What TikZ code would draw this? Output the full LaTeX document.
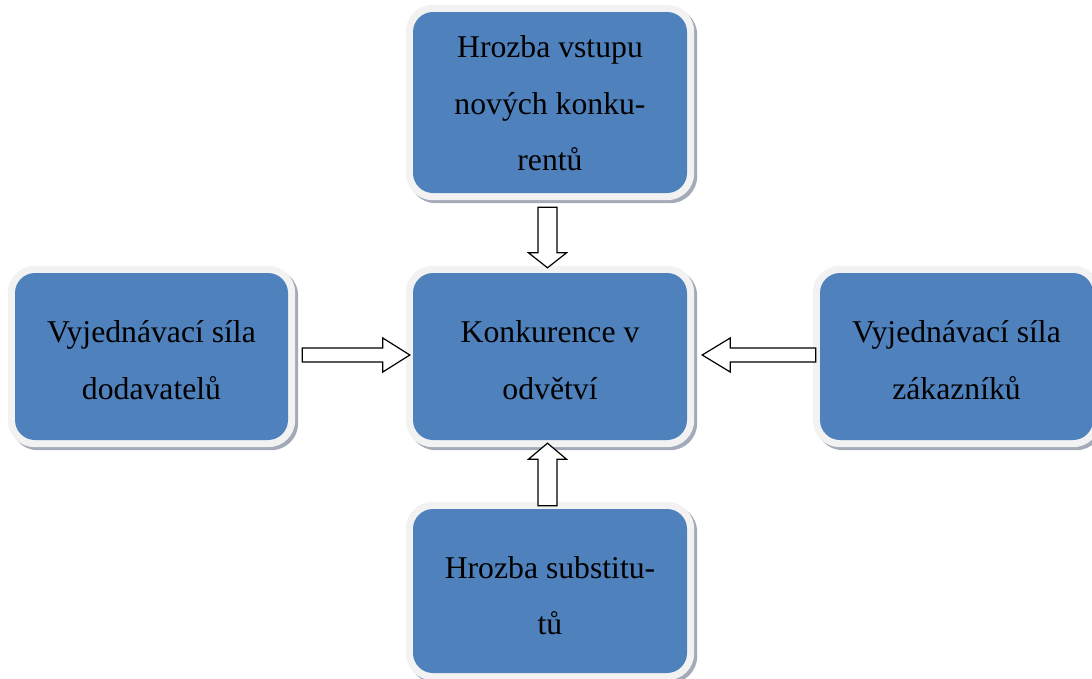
\documentclass[tikz,border=0pt]{standalone}
\usepackage{fontspec}
\setmainfont{Liberation Serif}
\usetikzlibrary{calc}
\pgfdeclarelayer{bg}
\pgfsetlayers{bg,main}
\definecolor{boxblue}{HTML}{4F81BD}
\definecolor{framegray}{HTML}{F2F2F2}
\definecolor{shadowgray}{HTML}{A3ABB8}
\newcommand{\myboxframe}[1]{%
  \fill[shadowgray, rounded corners=27pt] ($(#1.south west)+(-4pt,-10pt)$) rectangle ($(#1.north east)+(10pt,4pt)$);
  \fill[framegray, rounded corners=27pt] ($(#1.south west)+(-7pt,-7pt)$) rectangle ($(#1.north east)+(7pt,7pt)$);}
\newcommand{\myblockarrow}[5]{%
  \draw[forcearrow] let \p1=($(#2)-(#1)$), \n1={veclen(\x1,\y1)}, \n2={atan2(\y1,\x1)} in
    [shift={(#1)}, rotate=\n2]
    (0pt,{-#3pt}) -- ({\n1-#5pt},{-#3pt}) -- ({\n1-#5pt},{-#4pt}) -- (\n1,0pt)
    -- ({\n1-#5pt},{#4pt}) -- ({\n1-#5pt},{#3pt}) -- (0pt,{#3pt}) -- cycle;}
\tikzset{
  boxstyle/.style={rectangle, rounded corners=20pt, fill=boxblue, inner sep=0pt,
    align=center, text=black, font=\fontsize{31.7pt}{56.5pt}\selectfont},
  forcearrow/.style={draw=black, fill=white, line width=1.2pt, line join=miter}
}
\begin{document}
\begin{tikzpicture}[x=1pt, y=-1pt]
\useasboundingbox (0,0) rectangle (1092,678);
% boxes
\node[boxstyle, minimum width=274pt, minimum height=181pt] (T) at (550,102.5)
  {\rule{0pt}{23.6pt}Hrozba vstupu\\nových konku-\\rentů};
\node[boxstyle, minimum width=274pt, minimum height=167pt] (C) at (550,356.5)
  {\rule{0pt}{29.6pt}Konkurence v\\odvětví};
\node[boxstyle, minimum width=273pt, minimum height=167pt] (L) at (151.5,356.5)
  {\rule{0pt}{29.6pt}Vyjednávací síla\\dodavatelů};
\node[boxstyle, minimum width=273pt, minimum height=167pt] (R) at (956.5,356.5)
  {\rule{0pt}{29.6pt}Vyjednávací síla\\zákazníků};
\node[boxstyle, minimum width=274pt, minimum height=164pt] (B) at (550,591)
  {\rule{0pt}{31.6pt}Hrozba substitu-\\tů};
\begin{pgfonlayer}{bg}
  \myboxframe{T}\myboxframe{C}\myboxframe{L}\myboxframe{R}\myboxframe{B}
\end{pgfonlayer}
% connector end points
\coordinate (ts) at ($(T.south)+(-2.5pt,-14pt)$);
\coordinate (te) at ($(C.north)+(-2.5pt,5pt)$);
\coordinate (bs) at ($(B.north)+(-2.5pt,3pt)$);
\coordinate (be) at ($(C.south)+(-2.5pt,-3pt)$);
\coordinate (ls) at ($(L.east)+(14pt,1.5pt)$);
\coordinate (le) at ($(C.west)+(-3pt,1.5pt)$);
\coordinate (rs) at ($(R.west)+(-4pt,1.5pt)$);
\coordinate (re) at ($(C.east)+(15pt,1.5pt)$);
% block arrows
\myblockarrow{ts}{te}{9.5}{19}{15}
\myblockarrow{bs}{be}{9.5}{19}{16}
\myblockarrow{ls}{le}{7}{17}{27}
\myblockarrow{rs}{re}{7}{17}{28}
\end{tikzpicture}
\end{document}
